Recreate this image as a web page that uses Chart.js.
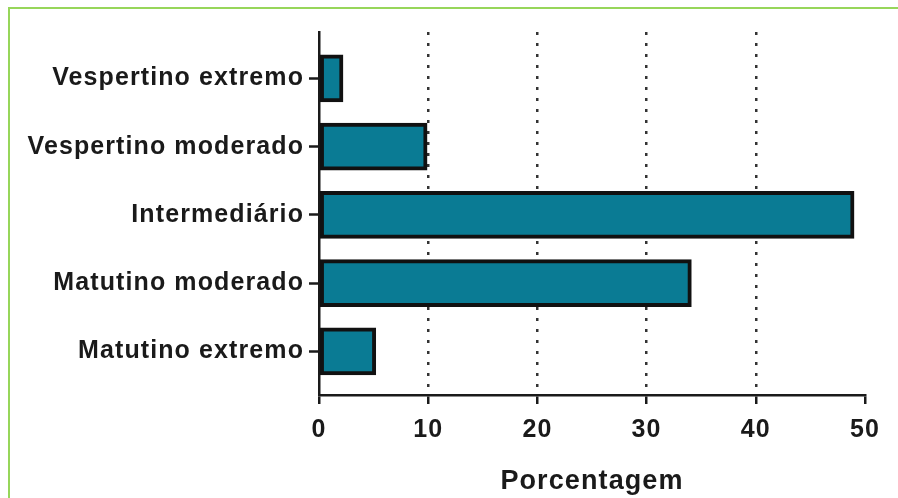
<!DOCTYPE html>
<html>
<head>
<meta charset="utf-8">
<script src="https://cdn.jsdelivr.net/npm/chart.js@4/dist/chart.umd.min.js"></script>
<style>
    html, body { margin: 0; padding: 0; background: #fff; }
    .frame { position: relative; width: 898px; height: 498px; overflow: hidden; }
    .frame canvas { position: absolute; left: 0; top: 0; }
    .green-line { position: absolute; background: #97d65a; }
</style>
</head>
<body>
<div class="frame">
    <canvas id="chart" width="898" height="498"></canvas>
    <div class="green-line" style="left: 8px; top: 7px; width: 890px; height: 2px;"></div>
    <div class="green-line" style="left: 8px; top: 7px; width: 2px; height: 491px;"></div>
</div>
<script>
const categories = ['Vespertino extremo', 'Vespertino moderado', 'Intermediário', 'Matutino moderado', 'Matutino extremo'];
const percentages = [2.2, 9.9, 49.0, 34.1, 5.2];
const xTicks = [0, 10, 20, 30, 40, 50];

const FONT = '"Liberation Sans", Arial, sans-serif';
const INK = '#1a1a1a';

// the original lettering is a bit wider than Liberation Sans
const letterSpacingPlugin = {
    id: 'letterSpacing',
    beforeLayout: chart => { chart.ctx.letterSpacing = '1.1px'; },
    beforeDraw: chart => { chart.ctx.letterSpacing = '1.1px'; }
};

document.addEventListener('DOMContentLoaded', () => {
    const ctx = document.getElementById('chart').getContext('2d');

    new Chart(ctx, {
        type: 'bar',
        data: {
            datasets: [{
                data: percentages.map((v, i) => ({ x: v, y: i })),
                backgroundColor: '#0a7b94',
                borderColor: '#111',
                borderWidth: 4,
                borderSkipped: false,
                barThickness: 47
            }]
        },
        options: {
            indexAxis: 'y',
            responsive: false,
            animation: false,
            layout: { padding: { top: 32, right: 33, left: 0, bottom: 0 } },
            plugins: {
                legend: { display: false },
                tooltip: { enabled: false }
            },
            scales: {
                x: {
                    type: 'linear',
                    min: 0,
                    max: 50,
                    afterBuildTicks: scale => {
                        scale.ticks = xTicks.map(v => ({ value: v }));
                    },
                    afterFit: scale => {
                        scale.height = 498 - 395;
                    },
                    grid: {
                        color: c => (c.tick && (c.tick.value === 0 || c.tick.value === 50)) ? 'rgba(0,0,0,0)' : '#333',
                        lineWidth: 2.5,
                        tickColor: INK,
                        tickWidth: 2.5,
                        tickLength: 9,
                        tickBorderDash: []
                    },
                    border: { display: true, color: INK, width: 2.5, dash: [3, 8] },
                    ticks: {
                        color: INK,
                        padding: 11,
                        maxRotation: 0,
                        font: { family: FONT, size: 25, weight: 'bold' }
                    },
                    title: {
                        display: true,
                        text: 'Porcentagem',
                        color: INK,
                        padding: { top: 9, bottom: 0 },
                        font: { family: FONT, size: 27, weight: 'bold' }
                    }
                },
                y: {
                    type: 'linear',
                    reverse: true,
                    offset: false,
                    min: -0.68,
                    max: 4.64,
                    afterBuildTicks: scale => {
                        scale.ticks = categories.map((c, i) => ({ value: i }));
                    },
                    afterFit: scale => {
                        scale.width = 319;
                    },
                    grid: {
                        offset: false,
                        color: 'rgba(0,0,0,0)',
                        tickColor: INK,
                        tickWidth: 2.5,
                        tickLength: 10
                    },
                    border: { display: true, color: INK, width: 2.5 },
                    ticks: {
                        color: INK,
                        padding: 5,
                        callback: value => categories[value],
                        font: { family: FONT, size: 25, weight: 'bold' }
                    }
                }
            }
        },
        plugins: [letterSpacingPlugin]
    });
});
</script>
</body>
</html>
